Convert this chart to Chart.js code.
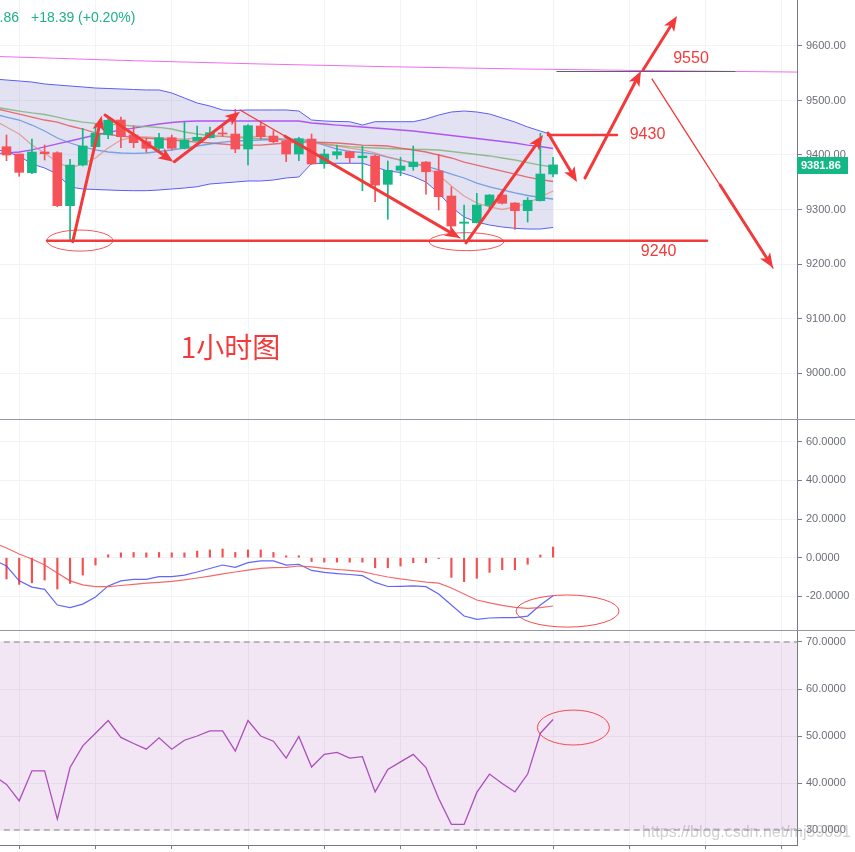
<!DOCTYPE html>
<html><head><meta charset="utf-8">
<script src="https://cdn.jsdelivr.net/npm/chart.js@4.4.1/dist/chart.umd.min.js"></script>
<style>
html,body{margin:0;padding:0;background:#fff;width:855px;height:852px;overflow:hidden;position:relative;font-family:"Liberation Sans",Arial,sans-serif}
.pane{position:absolute;left:0;width:855px}
#w1{top:0;height:419px}
#w2{top:420px;height:210px}
#w3{top:631px;height:221px}
.sep{position:absolute;left:0;width:855px;height:1px;background:#9598a1}
.hdr{position:absolute;top:9px;font-size:14px;line-height:16px;color:#1eb08a;white-space:nowrap}
.wm{position:absolute;right:4px;top:823px;font-size:16px;line-height:18px;color:rgba(150,150,150,0.45);white-space:nowrap}
</style></head><body>
<div class="pane" id="w1"><canvas id="c1"></canvas></div>
<div class="sep" style="top:419px"></div>
<div class="pane" id="w2"><canvas id="c2"></canvas></div>
<div class="sep" style="top:630px"></div>
<div class="pane" id="w3"><canvas id="c3"></canvas></div>
<div class="hdr" style="left:-58px;width:77px;text-align:right">9381.86</div>
<div class="hdr" style="left:31px">+18.39 (+0.20%)</div>
<div class="wm">https://blog.csdn.net/mj59051</div>
<script>
// ---------- DATA ----------
// candle index (0..43); line series start at index -1
const candleIdx = Array.from({length:44},(_,i)=>i);
const lineIdx = Array.from({length:45},(_,i)=>i-1);
const openP  = [9415.2,9401.8,9367.5,9405.5,9404.2,9307.0,9381.6,9415.2,9437.2,9464.2,9436.7,9424.4,9412.3,9431.7,9412.3,9426.2,9431.7,9440.4,9438.5,9411.0,9453.2,9434.8,9426.2,9401.8,9429.3,9384.0,9400.0,9406.0,9395.0,9398.1,9346.2,9371.9,9378.5,9387.1,9370.6,9324.7,9274.7,9275.8,9307.3,9326.6,9311.9,9297.8,9316.1,9365.1];
const closeP = [9400.0,9368.2,9405.5,9402.4,9307.0,9381.6,9416.5,9439.8,9463.7,9433.6,9422.6,9412.3,9431.7,9412.3,9427.5,9432.5,9440.9,9438.5,9411.0,9453.8,9433.6,9424.4,9401.8,9429.9,9383.5,9401.8,9406.0,9395.0,9398.1,9344.9,9371.9,9379.8,9387.1,9369.3,9323.5,9269.7,9277.0,9308.2,9326.6,9311.4,9297.8,9317.0,9365.1,9381.86];
const highP  = [9436.7,9401.8,9429.3,9418.3,9406.0,9392.1,9449.0,9456.3,9469.7,9469.7,9453.2,9430.6,9439.8,9436.7,9460.5,9453.2,9451.4,9450.8,9483.8,9455.6,9461.1,9444.6,9426.2,9432.5,9438.5,9410.4,9418.3,9407.3,9416.5,9400.0,9389.0,9395.8,9416.5,9388.0,9401.3,9341.3,9308.2,9329.7,9327.5,9327.5,9312.8,9322.0,9439.8,9395.8];
const lowP   = [9389.5,9360.9,9365.7,9390.8,9305.1,9241.0,9379.8,9414.7,9429.9,9413.4,9413.4,9404.9,9409.2,9409.2,9411.0,9425.7,9430.8,9433.6,9404.2,9381.6,9428.8,9422.6,9387.7,9389.5,9382.6,9375.6,9392.6,9385.9,9334.5,9314.3,9282.0,9362.0,9371.9,9327.9,9299.1,9268.8,9241.0,9275.2,9299.1,9310.0,9263.6,9277.0,9315.6,9360.2];
const lastPrice = 9381.86;

const bbUpper = [9539.4,9537.6,9535.8,9533.9,9530.3,9528.4,9526.6,9524.8,9522.9,9522,9521.1,9520.2,9519.3,9519.3,9513.8,9504.6,9495.4,9489.9,9482.6,9481.7,9482.6,9482.6,9482.6,9482.6,9480.7,9464.2,9462.4,9461.5,9461.1,9455,9461.1,9461.1,9461.1,9461.1,9466,9473.4,9478.9,9480.7,9478.9,9475.2,9467.9,9460.5,9451.4,9444,9436.7];
const bbLower = [9411,9405.5,9398.2,9383.5,9376.1,9365.1,9341.3,9337.6,9336.7,9335.8,9334.9,9334.5,9334.5,9335.8,9337.6,9339.4,9341.8,9346.8,9348.6,9350.4,9352.3,9352.3,9354.1,9357.8,9359.6,9384.4,9384.8,9384.8,9384.8,9384.8,9378,9370.6,9367.9,9360.5,9350.4,9330.3,9304.6,9286.2,9277,9271.5,9267.9,9265.5,9264.2,9264.2,9267];
const maPurple = [9401.8,9403.7,9405.5,9409.2,9414.7,9420.2,9425.7,9431.2,9436.7,9441.3,9445.9,9449.5,9453.2,9456.9,9459.6,9461.5,9462.4,9462.4,9462.4,9462.4,9462.4,9462.4,9462.4,9462.4,9462.4,9458.7,9456.9,9455,9453.2,9451.4,9449.5,9447.7,9445.9,9444,9441.3,9438.5,9435.8,9433,9430.3,9427.5,9424.8,9422,9418.3,9415.6,9411.9];
const maGreen = [9488.1,9484.4,9480.7,9477.1,9474.3,9469.7,9464.2,9460.5,9458.2,9456.9,9455,9453.2,9451.9,9450.5,9447.7,9442.2,9438.5,9435.8,9434,9432.1,9431.2,9430.3,9429.3,9427.5,9425.7,9422.9,9420.2,9417.4,9415.2,9413.8,9412.8,9411.9,9411,9410.5,9410.1,9409.2,9406.4,9403.7,9400.9,9398.2,9394.5,9390.8,9386.2,9381.6,9378];
const maRed = [9486.2,9480.7,9475.2,9469.7,9464.2,9460.5,9453.2,9447.7,9440.4,9437.6,9434.8,9433,9431.2,9429.3,9427.5,9425.7,9423.8,9422,9420.2,9418.3,9418.3,9418.3,9420.2,9422,9423.8,9423.8,9422.9,9422,9420.2,9418.3,9417.4,9416.5,9412.8,9409.2,9405.5,9400,9394.5,9387.1,9381.6,9376.1,9370.6,9365.1,9359.6,9355,9351.4];
const maBlue = [9475.2,9469.7,9464.2,9455,9444,9431.2,9422,9414.7,9409.2,9405.5,9403.7,9403.1,9403.7,9406.4,9409.2,9412.8,9416.5,9420.2,9423.8,9425.7,9426.6,9427.5,9428.4,9429.3,9429.3,9425.7,9418.3,9411,9406.4,9404.6,9401.8,9396.3,9390.8,9385.3,9379.8,9372.5,9365.1,9357.8,9348.6,9341.3,9335.8,9330.3,9325.7,9322,9319.3];
const maSalmon = [9464.2,9451.4,9438.5,9418.3,9403.7,9387.1,9376.1,9383.5,9394.5,9412.8,9427.5,9433,9433,9431.2,9430.3,9429.3,9431.2,9433,9434.8,9433,9433,9434.8,9433,9427.5,9423.8,9422,9420.2,9416.5,9412.8,9409.2,9403.7,9396.3,9390.8,9385.3,9378,9363.3,9343.1,9324.7,9311.9,9304.6,9300,9304.6,9311.9,9322.9,9333.9];
const longMaIdx = [-1,10,20,30,40,50,63];
const longMaVal = [9581,9573,9567,9562,9558,9555,9552];

const macdHist = [-11,-13.8,-13,-11.6,-16.2,-13.3,-9.0,-3.8,1.5,2.5,2.7,2.5,2.7,2.5,2.5,3.4,4,4.5,2.7,4,4,2.7,1,1,-2,-2.3,-2.3,-2.3,-2.3,-5.2,-5.2,-4.3,-2.6,-2.6,-0.5,-10.2,-12.4,-10.7,-7.6,-6.2,-6.2,-3.4,1.4,5.5];
const macdLine = [-1.2,-4.3,-12,-15.2,-16.4,-24.5,-25.8,-24,-20.3,-14.6,-12,-11.2,-11.2,-9.8,-9.8,-9,-7.4,-5.6,-3.8,-5,-2.6,-1.7,-1.7,-3.8,-3.4,-6.6,-7.6,-8.2,-8.7,-9.3,-12.8,-14.9,-14.8,-14.6,-15,-18.8,-24.5,-30.2,-31.9,-31.2,-31,-31,-30.2,-24.5,-19.7];
const signalLine = [7.6,5.0,1.9,-0.7,-3.8,-7.9,-12,-14.1,-15,-15,-14.4,-13.8,-13.2,-12.8,-12.3,-11.5,-10.5,-9.5,-8.4,-7.4,-6.4,-5.5,-5.1,-5,-4.3,-4.8,-5.5,-6.1,-6.6,-7.2,-8.7,-10,-11,-11.8,-12.6,-13.2,-15.7,-18.8,-21.9,-23.4,-24.7,-25.7,-26.2,-25.8,-25];

const rsi = [41.5,39.7,36.2,42.6,42.6,32.3,43.3,47.9,50.6,53.3,49.7,48.4,47.2,49.6,47.2,49.1,50,51.1,51.1,46.8,53.3,50,48.9,45.3,49.9,43.4,46.1,46.5,45.3,45.6,38.1,42.9,44.5,46.1,43.3,36.7,31.2,31.2,38,41.9,39.9,38.1,41.9,50.6,53.5];
const rsiBands = [70,30];

const priceTicks = [9000,9100,9200,9300,9400,9500,9600];
const macdTicks = [-20,0,20,40,60];
const rsiTicks = [30,40,50,60,70];
const timeGrid = [1,7,13,19,25,31,37,43,49,55,61];

// drawn annotations, in (index, value) coordinates
const arrowsMain = [
  [5.21,9241, 7.49,9472.2],
  [7.75,9473.4, 13.12,9387.7],
  [13.2,9387.7, 18.37,9479.4],
  [21.91,9434.5, 35.68,9247.7],
  [36.15,9238.9, 42.21,9436.7],
  [42.6,9440.4, 44.88,9350.4],
  [45.51,9357.8, 49.92,9554.1],
  [50.08,9556, 52.75,9655],
  [56.14,9344.9, 60.31,9192.6]
];
const thinLinesMain = [
  [18.37,9482.6, 35.68,9247.7],
  [50.79,9539.4, 60.31,9192.6]
];
const levelLines = [[3.19,55.11,9242.5],[42.6,48.03,9436.7]];
const level9550 = [43.3,57.32,9554];
const ellipsesMain = [[5.78,9243,2.6,19.3],[36.19,9241,2.95,16.5]];
const labelsMain = [["9550",53.85,9576.1],["9430",50.43,9436.7],["9240",51.3,9222]];
const titleLabel = ["1小时图",17.62,9047.7];
const macdEllipse = [44.14,-27.6,4.05,8.3];
const rsiEllipse = [44.6,51.8,2.83,3.72];

// ---------- CHARTS ----------
const UP='#14b886', DN='#f5525a', ANN='#f33a3a';
const FONT='"Liberation Sans", Arial, sans-serif';
Chart.defaults.font.family = FONT;
Chart.defaults.animation = false;

function xs(hideH){
  return {type:'linear', min:-0.511, max:62.19, offset:false,
    afterBuildTicks:s=>{s.ticks=timeGrid.map(v=>({value:v}));},
    ticks:{display:false}, border:{display:false},
    grid:{color:'#f2f3f7', drawTicks:false, offset:false},
    afterFit:s=>{s.height=hideH;}};
}
function ys(min,max,ticks,dec){
  return {type:'linear', position:'right', min, max,
    afterBuildTicks:s=>{s.ticks=ticks.map(v=>({value:v}));},
    afterFit:s=>{s.width=58; s.paddingTop=0; s.paddingBottom=0;},
    ticks:{color:'#6b6e79', font:{size:11}, padding:4, callback:v=>Number(v).toFixed(dec)},
    grid:{color:'#f2f3f7', tickColor:'#787b86', tickLength:5},
    border:{color:'#787b86'}};
}
function line(idx, vals, color, w, extra){
  return Object.assign({type:'line', data:idx.map((x,i)=>({x, y:vals[i]})), borderColor:color, borderWidth:w, pointRadius:0, tension:0, fill:false}, extra||{});
}
const baseOpts = {responsive:true, maintainAspectRatio:false, layout:{padding:0},
  plugins:{legend:{display:false}, tooltip:{enabled:false}}, events:[]};

function ellipse(ctx,x,y,cx,cy,rx,ry){
  const px=x.getPixelForValue(cx), py=y.getPixelForValue(cy);
  const prx=Math.abs(x.getPixelForValue(cx+rx)-px), pry=Math.abs(y.getPixelForValue(cy+ry)-py);
  ctx.beginPath(); ctx.ellipse(px,py,prx,pry,0,0,Math.PI*2); ctx.stroke();
}
function arrow(ctx,x1,y1,x2,y2){
  const a=Math.atan2(y2-y1,x2-x1), hl=15, hw=6;
  const bx=x2-hl*0.75*Math.cos(a), by=y2-hl*0.75*Math.sin(a);
  ctx.lineWidth=3; ctx.beginPath(); ctx.moveTo(x1,y1); ctx.lineTo(bx,by); ctx.stroke();
  const wx=x2-hl*Math.cos(a), wy=y2-hl*Math.sin(a);
  ctx.beginPath(); ctx.moveTo(x2,y2);
  ctx.lineTo(wx+hw*Math.sin(a), wy-hw*Math.cos(a));
  ctx.lineTo(bx,by);
  ctx.lineTo(wx-hw*Math.sin(a), wy+hw*Math.cos(a));
  ctx.closePath(); ctx.fill();
}

const mainAnno = {id:'mainAnno', afterDatasetsDraw(chart){
  const {ctx, scales:{x,y}} = chart;
  const X=v=>x.getPixelForValue(v), Y=v=>y.getPixelForValue(v);
  ctx.save();
  ctx.strokeStyle=ANN; ctx.fillStyle=ANN; ctx.lineCap='round';
  ctx.strokeStyle='#5d606b'; ctx.lineWidth=1;
  ctx.beginPath(); ctx.moveTo(X(level9550[0]),Math.round(Y(level9550[2]))+0.5); ctx.lineTo(X(level9550[1]),Math.round(Y(level9550[2]))+0.5); ctx.stroke();
  ctx.strokeStyle=ANN;
  levelLines.forEach(l=>{ctx.lineWidth=2.5; ctx.beginPath(); ctx.moveTo(X(l[0]),Y(l[2])); ctx.lineTo(X(l[1]),Y(l[2])); ctx.stroke();});
  ctx.lineWidth=1.3;
  thinLinesMain.forEach(l=>{ctx.beginPath(); ctx.moveTo(X(l[0]),Y(l[1])); ctx.lineTo(X(l[2]),Y(l[3])); ctx.stroke();});
  arrowsMain.forEach(a=>arrow(ctx,X(a[0]),Y(a[1]),X(a[2]),Y(a[3])));
  ctx.lineWidth=1; ctx.strokeStyle='rgba(243,58,58,0.85)';
  ellipsesMain.forEach(e=>ellipse(ctx,x,y,e[0],e[1],e[2],e[3]));
  ctx.fillStyle=ANN; ctx.textAlign='center'; ctx.textBaseline='middle';
  ctx.font='16px '+FONT;
  labelsMain.forEach(l=>ctx.fillText(l[0],X(l[1]),Y(l[2])));
  ctx.font='28px "Noto Sans CJK SC", sans-serif';
  ctx.fillText(titleLabel[0],X(titleLabel[1]),Y(titleLabel[2]));
  ctx.restore();
}, afterDraw(chart){
  const {ctx, scales:{y}, chartArea} = chart;
  const py=y.getPixelForValue(lastPrice);
  ctx.save();
  ctx.fillStyle=UP; ctx.fillRect(chartArea.right, Math.round(py)-8, 51, 17);
  ctx.fillStyle='#fff'; ctx.font='bold 11px '+FONT; ctx.textBaseline='middle'; ctx.textAlign='left';
  ctx.fillText(lastPrice.toFixed(2), chartArea.right+4, Math.round(py)+0.5);
  ctx.restore();
}};

const cColors = candleIdx.map(i=>closeP[i]>=openP[i]?UP:DN);
new Chart(document.getElementById('c1'), {
  type:'line',
  data:{datasets:[
    line(lineIdx,bbUpper,'#5b5ef2',1,{fill:'+1', backgroundColor:'rgba(112,112,196,0.2)', order:20}),
    line(lineIdx,bbLower,'#5b5ef2',1,{order:19}),
    line(longMaIdx,longMaVal,'#f06cf0',1,{order:18}),
    line(lineIdx,maPurple,'rgba(170,70,245,0.9)',1.3,{order:17}),
    line(lineIdx,maGreen,'rgba(130,180,120,0.85)',1.3,{order:16}),
    line(lineIdx,maRed,'rgba(228,80,80,0.8)',1.3,{order:15}),
    line(lineIdx,maBlue,'rgba(90,145,220,0.8)',1.3,{order:14}),
    line(lineIdx,maSalmon,'rgba(225,140,120,0.75)',1.3,{order:13}),
    {type:'bar', data:candleIdx.map(i=>({x:i, y:[lowP[i],highP[i]]})), backgroundColor:cColors, barThickness:1, grouped:false, borderWidth:0, order:2},
    {type:'bar', data:candleIdx.map(i=>({x:i, y:[Math.min(openP[i],closeP[i]),Math.max(openP[i],closeP[i])]})), backgroundColor:cColors, barThickness:9, grouped:false, borderWidth:0, minBarLength:1, order:1}
  ]},
  options:Object.assign({}, baseOpts, {scales:{x:xs(0), y:ys(8915.6,9684.4,priceTicks,2)}}),
  plugins:[mainAnno]
});

const macdAnno = {id:'macdAnno', afterDatasetsDraw(chart){
  const {ctx, scales:{x,y}} = chart;
  ctx.save(); ctx.strokeStyle='rgba(243,58,58,0.9)'; ctx.lineWidth=1;
  ellipse(ctx,x,y,...macdEllipse); ctx.restore();
}};
new Chart(document.getElementById('c2'), {
  type:'line',
  data:{datasets:[
    {type:'bar', data:candleIdx.map(i=>({x:i, y:macdHist[i]})), backgroundColor:'#f45050', barThickness:1.5, grouped:false, borderWidth:0, order:3},
    line(lineIdx,macdLine,'rgba(70,75,245,0.85)',1.2,{order:2}),
    line(lineIdx,signalLine,'rgba(240,80,80,0.85)',1.2,{order:1})
  ]},
  options:Object.assign({}, baseOpts, {scales:{x:xs(0), y:ys(-37.4,71.2,macdTicks,4)}}),
  plugins:[macdAnno]
});

const rsiAnno = {id:'rsiAnno', afterDatasetsDraw(chart){
  const {ctx, scales:{x,y}} = chart;
  ctx.save(); ctx.strokeStyle='rgba(243,58,58,0.9)'; ctx.lineWidth=1;
  ellipse(ctx,x,y,...rsiEllipse); ctx.restore();
}};
const xr = xs(7);
xr.grid = {color:'#f2f3f7', drawTicks:true, tickLength:4, tickColor:'#787b86', offset:false};
xr.border = {display:true, color:'#787b86'};
new Chart(document.getElementById('c3'), {
  type:'line',
  data:{datasets:[
    line([-1,63],[rsiBands[0],rsiBands[0]],'#867f8a',1,{borderDash:[6,4], fill:'+1', backgroundColor:'rgba(150,50,165,0.12)', order:5}),
    line([-1,63],[rsiBands[1],rsiBands[1]],'#867f8a',1,{borderDash:[6,4], order:4}),
    line(lineIdx,rsi,'#ab4fba',1.3,{order:1})
  ]},
  options:Object.assign({}, baseOpts, {scales:{x:xr, y:ys(26.81,72.34,rsiTicks,4)}}),
  plugins:[rsiAnno]
});
</script>
</body></html>
